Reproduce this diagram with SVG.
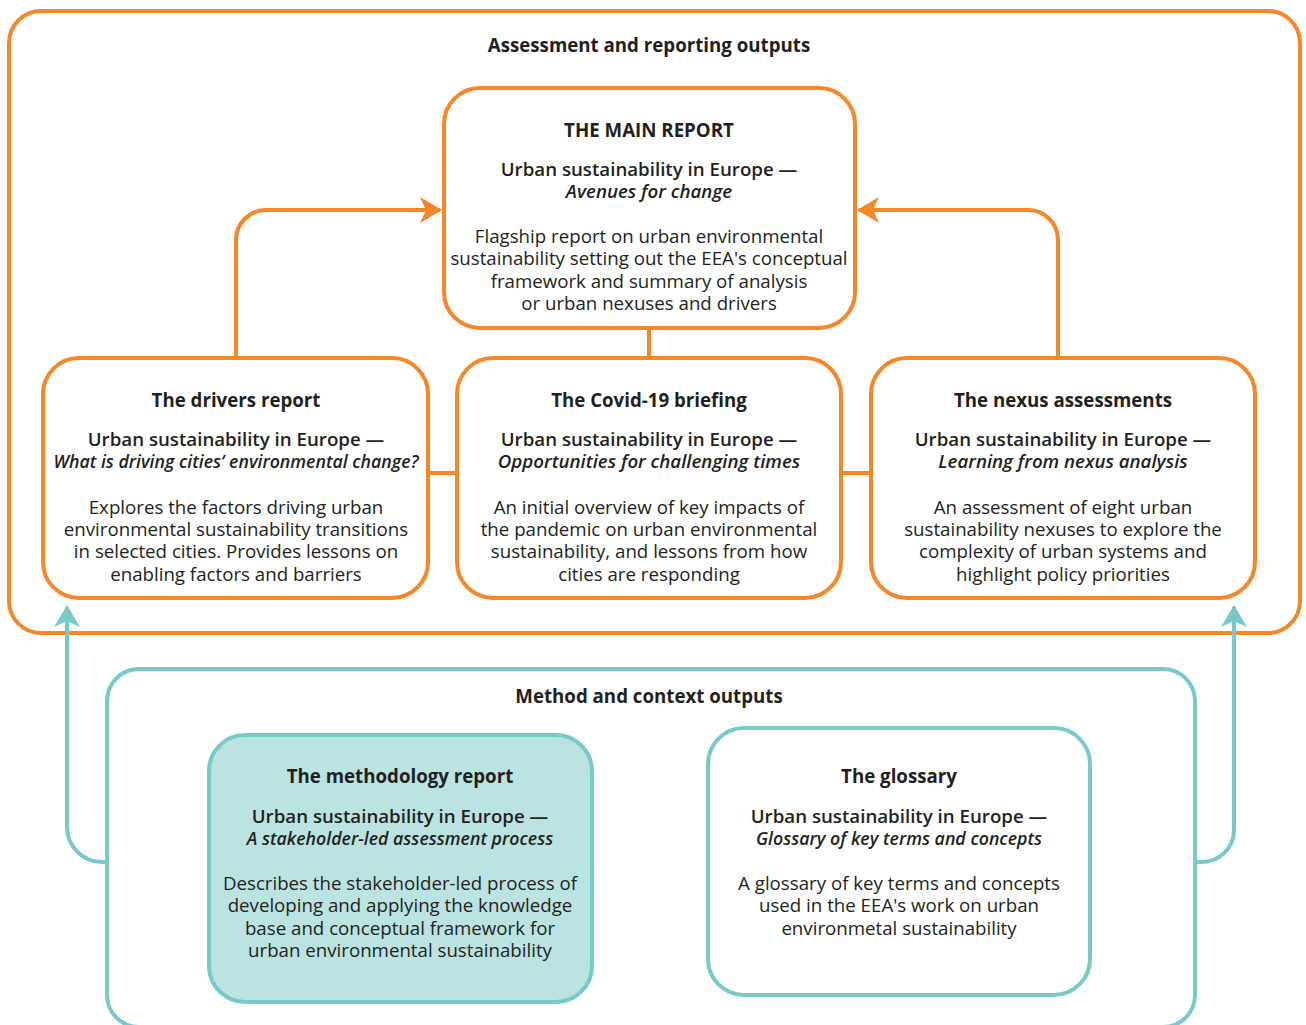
<svg xmlns="http://www.w3.org/2000/svg" width="1306" height="1025" viewBox="0 0 1306 1025">
<style>
.o{fill:#fff;stroke:#F58726;stroke-width:4}
.t{fill:#fff;stroke:#76CBC8;stroke-width:4}
.tf{fill:#BAE3E2;stroke:#76CBC8;stroke-width:4}
.co{fill:none;stroke:#F58726;stroke-width:4}
.ct{fill:none;stroke:#76CBC8;stroke-width:4}
text{font-family:"Open Sans","Noto Sans","Liberation Sans",sans-serif;font-size:18.7px;fill:#231F20;text-anchor:middle}
.b{font-weight:bold}
.bi{font-weight:600;font-style:italic}
.n{font-size:17.75px}
.s{font-weight:600}
</style>
<defs>
<marker id="ao" viewBox="0 0 22 26" refX="20" refY="13" markerWidth="22" markerHeight="26" markerUnits="userSpaceOnUse" orient="auto">
<path d="M0,0 L22,13 L0,26 L6,13 z" fill="#F58726"/>
</marker>
<marker id="at" viewBox="0 0 22 26" refX="20" refY="13" markerWidth="22" markerHeight="26" markerUnits="userSpaceOnUse" orient="auto">
<path d="M0,0 L22,13 L0,26 L6,13 z" fill="#76CBC8"/>
</marker>
</defs>
<g id="assessment-container">
<rect class="o" x="9" y="11" width="1291" height="622" rx="32"/>
<text class="b" x="649" y="52">Assessment and reporting outputs</text>
</g>
<g id="method-container">
<rect class="t" x="107" y="669" width="1088" height="358" rx="32"/>
<text class="b" x="649" y="703">Method and context outputs</text>
</g>
<g id="connectors">
<path class="co" d="M649,328 V358"/>
<path class="co" d="M428,473 H457"/>
<path class="co" d="M841,473 H871"/>
<path class="co" d="M236,358 V240 A30,30 0 0 1 266,210 H440" marker-end="url(#ao)"/>
<path class="co" d="M1058,358 V240 A30,30 0 0 0 1028,210 H859" marker-end="url(#ao)"/>
<path class="ct" d="M107,862 H102 A35,35 0 0 1 67,827 V607" marker-end="url(#at)"/>
<path class="ct" d="M1195,862 H1202 A32,32 0 0 0 1234,830 V607" marker-end="url(#at)"/>
</g>
<g id="main-report">
<rect class="o" x="444" y="88" width="411" height="240" rx="36"/>
<text class="b" x="649" y="137">THE MAIN REPORT</text>
<text class="s" x="649" y="176">Urban sustainability in Europe —</text>
<text class="bi" x="649" y="198">Avenues for change</text>
<text x="649" y="243">Flagship report on urban environmental</text>
<text x="649" y="265">sustainability setting out the EEA's conceptual</text>
<text x="649" y="288">framework and summary of analysis</text>
<text x="649" y="310">or urban nexuses and drivers</text>
</g>
<g id="drivers-report">
<rect class="o" x="43" y="358" width="385" height="240" rx="36"/>
<text class="b" x="236" y="407">The drivers report</text>
<text class="s" x="236" y="446">Urban sustainability in Europe —</text>
<text class="bi n" x="236" y="468">What is driving cities’ environmental change?</text>
<text x="236" y="514">Explores the factors driving urban</text>
<text x="236" y="536">environmental sustainability transitions</text>
<text x="236" y="558">in selected cities. Provides lessons on</text>
<text x="236" y="581">enabling factors and barriers</text>
</g>
<g id="covid-briefing">
<rect class="o" x="457" y="358" width="384" height="240" rx="36"/>
<text class="b" x="649" y="407">The Covid-19 briefing</text>
<text class="s" x="649" y="446">Urban sustainability in Europe —</text>
<text class="bi" x="649" y="468">Opportunities for challenging times</text>
<text x="649" y="514">An initial overview of key impacts of</text>
<text x="649" y="536">the pandemic on urban environmental</text>
<text x="649" y="558">sustainability, and lessons from how</text>
<text x="649" y="581">cities are responding</text>
</g>
<g id="nexus-assessments">
<rect class="o" x="871" y="358" width="384" height="240" rx="36"/>
<text class="b" x="1063" y="407">The nexus assessments</text>
<text class="s" x="1063" y="446">Urban sustainability in Europe —</text>
<text class="bi" x="1063" y="468">Learning from nexus analysis</text>
<text x="1063" y="514">An assessment of eight urban</text>
<text x="1063" y="536">sustainability nexuses to explore the</text>
<text x="1063" y="558">complexity of urban systems and</text>
<text x="1063" y="581">highlight policy priorities</text>
</g>
<g id="methodology-report">
<rect class="tf" x="209" y="735" width="383" height="267" rx="36"/>
<text class="b" x="400" y="783">The methodology report</text>
<text class="s" x="400" y="823">Urban sustainability in Europe —</text>
<text class="bi n" x="400" y="845">A stakeholder-led assessment process</text>
<text x="400" y="890">Describes the stakeholder-led process of</text>
<text x="400" y="912">developing and applying the knowledge</text>
<text x="400" y="935">base and conceptual framework for</text>
<text x="400" y="957">urban environmental sustainability</text>
</g>
<g id="glossary">
<rect class="t" x="708" y="728" width="382" height="267" rx="36"/>
<text class="b" x="899" y="783">The glossary</text>
<text class="s" x="899" y="823">Urban sustainability in Europe —</text>
<text class="bi n" x="899" y="845">Glossary of key terms and concepts</text>
<text x="899" y="890">A glossary of key terms and concepts</text>
<text x="899" y="912">used in the EEA's work on urban</text>
<text x="899" y="935">environmetal sustainability</text>
</g>
</svg>
